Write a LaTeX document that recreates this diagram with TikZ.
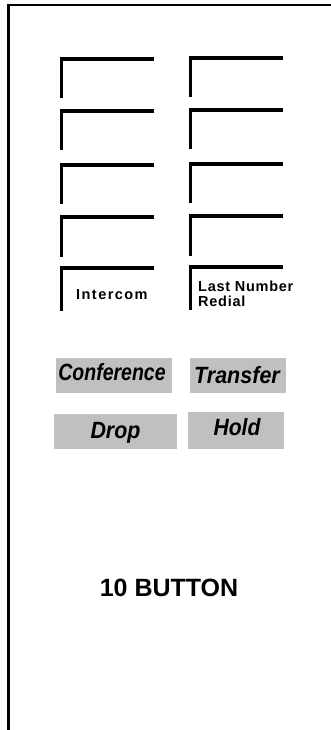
\documentclass[tikz,border=0pt]{standalone}
\usepackage{fontspec}
\setmainfont{Liberation Sans}
\usepackage{graphicx}
\definecolor{btngray}{RGB}{192,192,192}
\tikzset{
  frameline/.style={line width=2.8pt, line cap=butt, line join=miter},
  bracketline/.style={line width=3.3pt, line cap=butt, line join=miter},
  btnbox/.style={fill=btngray, draw=none, inner sep=0pt, anchor=north west},
  btntext/.style={font=\fontsize{23.5}{26}\selectfont\bfseries\itshape, inner sep=0pt, anchor=base},
  smalllabel/.style={font=\fontsize{14.5}{16}\selectfont\bfseries, inner sep=0pt, anchor=base west, align=left},
  titletext/.style={font=\fontsize{25}{28}\selectfont\bfseries, inner sep=0pt, anchor=base}
}
\begin{document}
\begin{tikzpicture}[x=1pt,y=-1pt]
\useasboundingbox (0,0) rectangle (331,730);
% frame
\draw[frameline] (331,5) -- (8.5,5) -- (8.5,730);
% button brackets
\foreach \t/\b in {59/98, 111/150, 165/204, 217/257, 268/311}{
  \draw[bracketline] (61.3,\b) |- (153.5,\t);
}
\foreach \t/\b in {58/97, 110/149, 164/203, 216/256, 267/310}{
  \draw[bracketline] (190.3,\b) |- (282.5,\t);
}
% labels
\node[smalllabel] (intercom) at (76,299) {\addfontfeature{LetterSpace=10}Intercom};
\node[smalllabel] (lnr1) at (198,291) {\addfontfeature{LetterSpace=5}Last Number};
\node[smalllabel] (lnr2) at (198,306) {\addfontfeature{LetterSpace=5}Redial};
% gray buttons
\node[btnbox, minimum width=116pt, minimum height=35pt] (confbox) at (56,358) {};
\node[btnbox, minimum width=96pt, minimum height=35pt] (transbox) at (190,358) {};
\node[btnbox, minimum width=123pt, minimum height=35pt] (dropbox) at (54,414) {};
\node[btnbox, minimum width=96pt, minimum height=37pt] (holdbox) at (188,412) {};
\node[btntext] (conf) at (112,380.7) {\scalebox{0.83}[1]{Conference}};
\node[btntext] (trans) at (237,383) {\scalebox{0.915}[1]{Transfer}};
\node[btntext] (drop) at (115.5,438.3) {\scalebox{0.91}[1]{Drop}};
\node[btntext] (hold) at (237,435) {\scalebox{0.9}[1]{Hold}};
% title
\node[titletext] (title) at (169,596) {10 BUTTON};
\end{tikzpicture}
\end{document}
